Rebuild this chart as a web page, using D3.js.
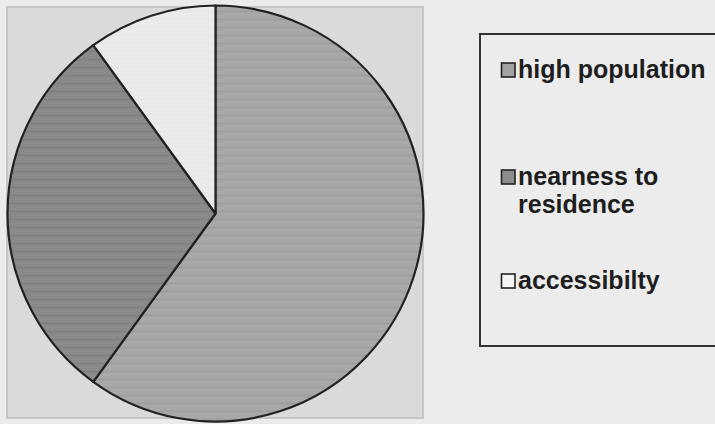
<!DOCTYPE html>
<html>
<head>
<meta charset="utf-8">
<script src="https://cdn.jsdelivr.net/npm/d3@7/dist/d3.min.js"></script>
<style>
  html, body { margin: 0; padding: 0; background: #ebebeb; }
  svg { display: block; }
</style>
</head>
<body>
<svg id="chart" width="715" height="424"></svg>
<script>
// Reasons for choosing a location (share of responses, %)
const categories = ["high population", "nearness to residence", "accessibilty"];
const legendLines = [["high population"], ["nearness to", "residence"], ["accessibilty"]];
const shares = [60, 30, 10];
const fills = ["#a8a8a8", "#8a8a8a", "#ebebeb"];
const swatchFills = ["#a2a2a2", "#8c8c8c", "#f4f4f4"];

const svg = d3.select("#chart");
const defs = svg.append("defs");

// faint horizontal banding inside the slices
fills.forEach((c, i) => {
  const p = defs.append("pattern")
    .attr("id", "band" + i)
    .attr("patternUnits", "userSpaceOnUse")
    .attr("width", 10).attr("height", 8);
  p.append("rect").attr("width", 10).attr("height", 8).attr("fill", c);
  p.append("rect").attr("y", 5).attr("width", 10).attr("height", 2)
    .attr("fill", d3.color(c).darker(i === 2 ? 0.05 : 0.18));
});

// plot area
svg.append("rect")
  .attr("x", 7).attr("y", 7).attr("width", 416).attr("height", 411)
  .attr("fill", "#dadada")
  .attr("stroke", "#bdbdbd").attr("stroke-width", 1.5);

const cx = 215.5, cy = 213.5, r = 208;
const pie = d3.pie().sort(null).value(d => d);
const arc = d3.arc().innerRadius(0).outerRadius(r);

const g = svg.append("g").attr("transform", `translate(${cx},${cy})`);
g.selectAll("path")
  .data(pie(shares))
  .join("path")
  .attr("d", arc)
  .attr("fill", (d, i) => `url(#band${i})`)
  .attr("stroke", "#222")
  .attr("stroke-width", 2.2)
  .attr("stroke-linejoin", "round");

// legend
const lg = svg.append("g");
lg.append("rect")
  .attr("x", 480).attr("y", 34).attr("width", 250).attr("height", 312)
  .attr("fill", "#ececec")
  .attr("stroke", "#333").attr("stroke-width", 2);

const rowY = [78, 185, 289];
const item = lg.selectAll("g.item")
  .data(categories)
  .join("g")
  .attr("class", "item")
  .attr("transform", (d, i) => `translate(501,${rowY[i]})`);

item.append("rect")
  .attr("x", 0.5).attr("y", -15).attr("width", 13.5).attr("height", 14)
  .attr("fill", (d, i) => swatchFills[i])
  .attr("stroke", "#222").attr("stroke-width", 1.6);

item.append("text")
  .attr("x", 17).attr("y", 0)
  .attr("font-family", "Liberation Sans, Arial, sans-serif")
  .attr("font-weight", "bold")
  .attr("font-size", 25)
  .attr("fill", "#1e1e1e")
  .selectAll("tspan")
  .data((d, i) => legendLines[i])
  .join("tspan")
  .attr("x", 17)
  .attr("dy", (d, j) => j === 0 ? 0 : 28)
  .text(d => d);
</script>
</body>
</html>
